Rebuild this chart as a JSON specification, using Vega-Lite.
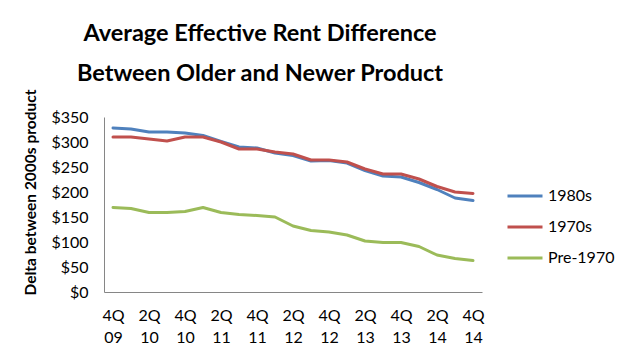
{
  "$schema": "https://vega.github.io/schema/vega-lite/v6.json",
  "width": 378,
  "height": 175,
  "autosize": "none",
  "padding": {"left": 104, "top": 117, "right": 151, "bottom": 71},
  "background": "white",
  "title": {
    "text": ["Average Effective Rent Difference", "Between Older and Newer Product"],
    "font": "Lato",
    "fontSize": 23.5,
    "fontWeight": "bold",
    "color": "black",
    "lineHeight": 40,
    "anchor": "middle",
    "dx": -33,
    "offset": 4
  },
  "data": {
    "values": [
      {"q": "4Q 09", "s": "1980s", "v": 328}, {"q": "1Q 10", "s": "1980s", "v": 326}, {"q": "2Q 10", "s": "1980s", "v": 320}, {"q": "3Q 10", "s": "1980s", "v": 320}, {"q": "4Q 10", "s": "1980s", "v": 318}, {"q": "1Q 11", "s": "1980s", "v": 313}, {"q": "2Q 11", "s": "1980s", "v": 301}, {"q": "3Q 11", "s": "1980s", "v": 290}, {"q": "4Q 11", "s": "1980s", "v": 288}, {"q": "1Q 12", "s": "1980s", "v": 278}, {"q": "2Q 12", "s": "1980s", "v": 273}, {"q": "3Q 12", "s": "1980s", "v": 262}, {"q": "4Q 12", "s": "1980s", "v": 263}, {"q": "1Q 13", "s": "1980s", "v": 258}, {"q": "2Q 13", "s": "1980s", "v": 243}, {"q": "3Q 13", "s": "1980s", "v": 232}, {"q": "4Q 13", "s": "1980s", "v": 230}, {"q": "1Q 14", "s": "1980s", "v": 219}, {"q": "2Q 14", "s": "1980s", "v": 205}, {"q": "3Q 14", "s": "1980s", "v": 188}, {"q": "4Q 14", "s": "1980s", "v": 183},
      {"q": "4Q 09", "s": "1970s", "v": 310}, {"q": "1Q 10", "s": "1970s", "v": 310}, {"q": "2Q 10", "s": "1970s", "v": 306}, {"q": "3Q 10", "s": "1970s", "v": 302}, {"q": "4Q 10", "s": "1970s", "v": 310}, {"q": "1Q 11", "s": "1970s", "v": 310}, {"q": "2Q 11", "s": "1970s", "v": 300}, {"q": "3Q 11", "s": "1970s", "v": 286}, {"q": "4Q 11", "s": "1970s", "v": 286}, {"q": "1Q 12", "s": "1970s", "v": 280}, {"q": "2Q 12", "s": "1970s", "v": 276}, {"q": "3Q 12", "s": "1970s", "v": 264}, {"q": "4Q 12", "s": "1970s", "v": 264}, {"q": "1Q 13", "s": "1970s", "v": 260}, {"q": "2Q 13", "s": "1970s", "v": 246}, {"q": "3Q 13", "s": "1970s", "v": 236}, {"q": "4Q 13", "s": "1970s", "v": 236}, {"q": "1Q 14", "s": "1970s", "v": 226}, {"q": "2Q 14", "s": "1970s", "v": 211}, {"q": "3Q 14", "s": "1970s", "v": 200}, {"q": "4Q 14", "s": "1970s", "v": 197},
      {"q": "4Q 09", "s": "Pre-1970", "v": 169}, {"q": "1Q 10", "s": "Pre-1970", "v": 167}, {"q": "2Q 10", "s": "Pre-1970", "v": 159}, {"q": "3Q 10", "s": "Pre-1970", "v": 159}, {"q": "4Q 10", "s": "Pre-1970", "v": 161}, {"q": "1Q 11", "s": "Pre-1970", "v": 169}, {"q": "2Q 11", "s": "Pre-1970", "v": 159}, {"q": "3Q 11", "s": "Pre-1970", "v": 155}, {"q": "4Q 11", "s": "Pre-1970", "v": 153}, {"q": "1Q 12", "s": "Pre-1970", "v": 150}, {"q": "2Q 12", "s": "Pre-1970", "v": 132}, {"q": "3Q 12", "s": "Pre-1970", "v": 123}, {"q": "4Q 12", "s": "Pre-1970", "v": 120}, {"q": "1Q 13", "s": "Pre-1970", "v": 114}, {"q": "2Q 13", "s": "Pre-1970", "v": 102}, {"q": "3Q 13", "s": "Pre-1970", "v": 99}, {"q": "4Q 13", "s": "Pre-1970", "v": 99}, {"q": "1Q 14", "s": "Pre-1970", "v": 91}, {"q": "2Q 14", "s": "Pre-1970", "v": 74}, {"q": "3Q 14", "s": "Pre-1970", "v": 67}, {"q": "4Q 14", "s": "Pre-1970", "v": 63}
    ]
  },
  "mark": {"type": "line", "strokeWidth": 3, "strokeJoin": "round", "strokeCap": "round"},
  "encoding": {
    "x": {
      "field": "q",
      "type": "ordinal",
      "sort": null,
      "scale": {"type": "point", "padding": 0.5},
      "axis": {
        "title": null,
        "values": ["4Q 09", "2Q 10", "4Q 10", "2Q 11", "4Q 11", "2Q 12", "4Q 12", "2Q 13", "4Q 13", "2Q 14", "4Q 14"],
        "labelExpr": "split(datum.value, ' ')",
        "labelAngle": 0,
        "labelFont": "Lato",
        "labelFontSize": 16,
        "labelColor": "black",
        "labelLineHeight": 22,
        "labelPadding": 15,
        "ticks": false,
        "tickSize": 0,
        "domainColor": "#868686",
        "domainWidth": 1,
        "grid": false
      }
    },
    "y": {
      "field": "v",
      "type": "quantitative",
      "scale": {"domain": [0, 350], "nice": false},
      "axis": {
        "title": "Delta between 2000s product",
        "titleFont": "Lato",
        "titleFontSize": 15.5,
        "titleFontWeight": "bold",
        "titleColor": "black",
        "titleX": -74,
        "titleY": 75,
        "titleBaseline": "middle",
        "titleAlign": "center",
        "values": [0, 50, 100, 150, 200, 250, 300, 350],
        "format": "$,.0f",
        "labelFont": "Lato",
        "labelFontSize": 16,
        "labelColor": "black",
        "labelPadding": 16,
        "ticks": false,
        "tickSize": 0,
        "domainColor": "#868686",
        "domainWidth": 1,
        "grid": false
      }
    },
    "color": {
      "field": "s",
      "type": "nominal",
      "sort": ["1980s", "1970s", "Pre-1970"],
      "scale": {"domain": ["1980s", "1970s", "Pre-1970"], "range": ["#4F81BD", "#C0504D", "#9BBB59"]},
      "legend": {
        "title": null,
        "orient": "none",
        "legendX": 402,
        "legendY": 60,
        "symbolType": "stroke",
        "symbolSize": 1225,
        "symbolStrokeWidth": 3,
        "labelFont": "Lato",
        "labelFontSize": 16,
        "labelColor": "black",
        "labelOffset": 4,
        "rowPadding": 4
      }
    }
  },
  "config": {"view": {"stroke": null}}
}
